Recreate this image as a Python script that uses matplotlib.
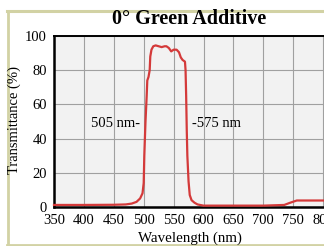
import matplotlib as mpl
import matplotlib.pyplot as plt
from matplotlib.lines import Line2D

# transmittance curve
wavelength = [350, 400, 450, 470, 480, 488, 494, 498, 500, 501, 503, 505, 506,
              508, 510, 511, 513, 516, 520, 525, 530, 535, 538, 542, 546, 550,
              555, 559, 562, 565, 569, 570, 571, 572, 573, 575, 577, 580, 585,
              590, 600, 650, 700, 735, 745, 756, 800, 850]
transmittance = [1.2, 1.2, 1.3, 1.5, 2.0, 3.0, 5.0, 8.0, 14, 30, 50, 65, 74,
                 76, 80, 88, 92, 94, 94.5, 94, 93.5, 94, 94, 93, 91, 92,
                 92, 90.5, 87.5, 86, 85, 80, 65, 45, 30, 15, 7, 4, 2.5,
                 1.5, 0.8, 0.8, 0.8, 1.2, 2.5, 3.8, 3.8, 3.8]
x_ticks = [350, 400, 450, 500, 550, 600, 650, 700, 750, 800]
y_ticks = [0, 20, 40, 60, 80, 100]

CURVE_COLOR = '#d43a3a'
BORDER_COLOR = '#d2d2a4'
W, H = 324, 246

mpl.rcParams['font.family'] = 'serif'
mpl.rcParams['font.serif'] = ['Liberation Serif', 'DejaVu Serif']

fig = plt.figure(figsize=(W / 100, H / 100), dpi=100)
fig.patch.set_facecolor('white')

# axes runs past the right edge (picture is a crop)
ax = fig.add_axes([54 / W, (H - 207) / H, 299 / W, 171 / H])
ax.set_facecolor('#f2f2f2')
ax.plot(wavelength, transmittance, color=CURVE_COLOR, linewidth=1.6,
        solid_joinstyle='round', zorder=4, clip_on=False)

ax.set_xlim(350, 850)
ax.set_ylim(0, 100)
ax.set_xticks(x_ticks)
ax.set_yticks(y_ticks)
ax.tick_params(length=0, labelsize=10.5, pad=5)
ax.grid(color='#a0a0a0', linewidth=0.8)
ax.set_axisbelow(True)
for side in ['left', 'bottom']:
    ax.spines[side].set_linewidth(1.8)
ax.spines['top'].set_linewidth(1.4)
ax.spines['right'].set_visible(False)

ax.text(412, 49, '505 nm-', ha='left', va='center', fontsize=10.5)
ax.text(581, 49, '-575 nm', ha='left', va='center', fontsize=10.5)

fig.text(14 / W, 1 - 120 / H, 'Transmittance (%)', rotation=90,
         ha='center', va='center', fontsize=10.5)
fig.text(190 / W, 1 - 238 / H, 'Wavelength (nm)', ha='center', va='center',
         fontsize=10.8)
fig.text(189 / W, 1 - 19 / H, '0° Green Additive', ha='center', va='center',
         fontsize=14.5, weight='bold')

# khaki frame around the plot
fig.add_artist(Line2D([8 / W, 8 / W], [1 - 10.5 / H, 1 - 244.5 / H],
                      color=BORDER_COLOR, linewidth=2))
fig.add_artist(Line2D([7 / W, 1], [1 - 10.5 / H, 1 - 10.5 / H],
                      color=BORDER_COLOR, linewidth=2.2))
fig.add_artist(Line2D([7 / W, 1], [1 - 244.5 / H, 1 - 244.5 / H],
                      color=BORDER_COLOR, linewidth=2))

fig.savefig('out.png', dpi=100)
